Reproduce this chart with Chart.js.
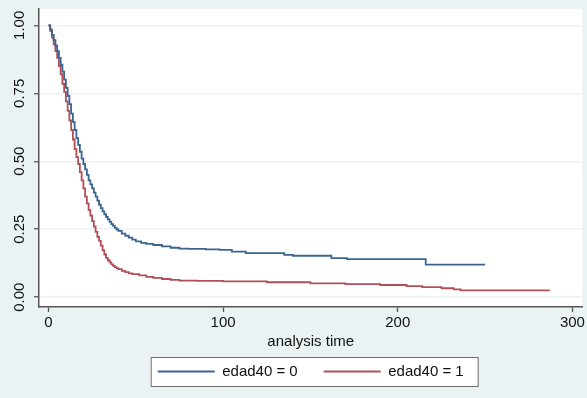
<!DOCTYPE html>
<html>
<head>
<meta charset="utf-8">
<script src="https://cdn.jsdelivr.net/npm/chart.js@4.4.1/dist/chart.umd.min.js"></script>
<style>
  html, body { margin: 0; padding: 0; background: #eaf2f3; }
  #wrap { width: 587px; height: 398px; }
</style>
</head>
<body>
<div id="wrap"><canvas id="kmChart" width="587" height="398"></canvas></div>
<script>
// Kaplan-Meier estimates
var edad0Time = [0, 1, 2, 3, 4, 5, 6, 7, 8, 9, 10, 11, 12, 13, 14, 15, 16, 17, 18, 19, 20,
    21, 22, 23, 24, 25, 26, 27, 28, 29, 30, 31, 32, 33, 34, 35, 36, 37, 38, 39, 40,
    42, 44, 46, 48, 50, 53, 56, 60, 65, 70, 75, 80, 90, 98, 105, 113, 135, 140, 162, 171, 216, 250];
var edad0Surv = [1.0, 0.985, 0.965, 0.945, 0.925, 0.905, 0.88, 0.855, 0.83, 0.80, 0.77,
    0.74, 0.71, 0.675, 0.645, 0.615, 0.585, 0.56, 0.535, 0.51, 0.49,
    0.47, 0.45, 0.43, 0.415, 0.40, 0.385, 0.37, 0.355, 0.34, 0.328,
    0.316, 0.305, 0.295, 0.286, 0.277, 0.269, 0.262, 0.255, 0.249, 0.244,
    0.234, 0.226, 0.219, 0.212, 0.205, 0.200, 0.196, 0.192, 0.187, 0.182, 0.179, 0.178,
    0.176, 0.174, 0.168, 0.162, 0.156, 0.1525, 0.144, 0.140, 0.120, 0.120];

var edad1Time = [0, 1, 2, 3, 4, 5, 6, 7, 8, 9, 10, 11, 12, 13, 14, 15, 16, 17, 18, 19, 20,
    21, 22, 23, 24, 25, 26, 27, 28, 29, 30, 31, 32, 33, 34, 35, 36, 37, 38, 39, 40,
    42, 44, 46, 48, 52, 56, 60, 65, 70, 75, 85, 100, 125, 150, 170, 190, 205, 214, 225, 232, 236, 287];
var edad1Surv = [1.0, 0.98, 0.955, 0.93, 0.905, 0.88, 0.85, 0.82, 0.785, 0.755, 0.72,
    0.685, 0.65, 0.615, 0.58, 0.545, 0.515, 0.49, 0.46, 0.43, 0.40,
    0.37, 0.345, 0.32, 0.30, 0.28, 0.26, 0.24, 0.222, 0.207, 0.19,
    0.172, 0.157, 0.145, 0.136, 0.128, 0.121, 0.115, 0.111, 0.107, 0.103,
    0.097, 0.092, 0.088, 0.085, 0.080, 0.075, 0.071, 0.067, 0.064, 0.061, 0.060,
    0.058, 0.055, 0.051, 0.048, 0.045, 0.041, 0.037, 0.033, 0.029, 0.025, 0.025];

var seriesLabels = ['edad40 = 0', 'edad40 = 1'];
var xTicks = [0, 100, 200, 300];
var yTicks = [0, 0.25, 0.5, 0.75, 1];

function toPoints(t, s) {
    return t.map(function (v, i) { return { x: v, y: s[i] }; });
}

// Stata-like backgrounds and the framed legend
var stataBackground = {
    id: 'stataBackground',
    beforeDraw: function (chart) {
        var ctx = chart.ctx, a = chart.chartArea;
        ctx.save();
        ctx.fillStyle = '#eaf2f3';
        ctx.fillRect(0, 0, chart.width, chart.height);
        ctx.fillStyle = '#ffffff';
        ctx.fillRect(a.left, a.top, a.right - a.left, a.bottom - a.top);
        var boxes = chart.legend.legendHitBoxes;
        if (boxes && boxes.length) {
            var first = boxes[0], last = boxes[boxes.length - 1];
            var x0 = first.left - 7, x1 = last.left + last.width + 14;
            var y0 = first.top - 7, y1 = first.top + first.height + 7;
            ctx.fillStyle = '#ffffff';
            ctx.fillRect(x0, y0, x1 - x0, y1 - y0);
            ctx.strokeStyle = '#6e6e6e';
            ctx.lineWidth = 1;
            ctx.strokeRect(x0 + 0.5, y0 + 0.5, x1 - x0, y1 - y0);
        }
        ctx.restore();
    }
};

var font = { family: '"Liberation Sans", Arial, sans-serif', size: 15 };

var ctxKm = document.getElementById('kmChart').getContext('2d');
var kmChart = new Chart(ctxKm, {
    type: 'line',
    data: {
        datasets: [{
            label: seriesLabels[0],
            data: toPoints(edad0Time, edad0Surv),
            borderColor: '#3b6591',
            backgroundColor: '#3b6591',
            borderWidth: 1.8,
            pointRadius: 0,
            stepped: true
        }, {
            label: seriesLabels[1],
            data: toPoints(edad1Time, edad1Surv),
            borderColor: '#b04f58',
            backgroundColor: '#b04f58',
            borderWidth: 1.8,
            pointRadius: 0,
            stepped: true
        }]
    },
    options: {
        responsive: false,
        animation: false,
        layout: { padding: { left: 0, right: 2, top: 0, bottom: 9 } },
        plugins: {
            tooltip: { enabled: false },
            legend: {
                position: 'bottom',
                fullSize: false,
                labels: {
                    usePointStyle: true,
                    pointStyle: 'line',
                    pointStyleWidth: 57,
                    boxHeight: 15,
                    padding: 26,
                    color: '#111',
                    font: font
                }
            }
        },
        scales: {
            x: {
                type: 'linear',
                min: -5.4,
                max: 305.7,
                afterBuildTicks: function (scale) {
                    scale.ticks = xTicks.map(function (v) { return { value: v }; });
                },
                afterFit: function (scale) { scale.height = 31; },
                ticks: { color: '#111', font: font, padding: 2, maxRotation: 0 },
                grid: { drawOnChartArea: false, tickLength: 5, tickColor: '#555', tickWidth: 1.3 },
                border: { display: true, color: '#555', width: 1.5 },
                title: {
                    display: true,
                    text: 'analysis time',
                    color: '#111',
                    font: font,
                    padding: { top: 0, bottom: -13 }
                }
            },
            y: {
                min: -0.036,
                max: 1.06,
                afterBuildTicks: function (scale) {
                    scale.ticks = yTicks.map(function (v) { return { value: v }; });
                },
                afterFit: function (scale) { scale.width = 39; },
                ticks: {
                    color: '#111',
                    font: font,
                    padding: 0,
                    minRotation: 90,
                    maxRotation: 90,
                    crossAlign: 'center',
                    callback: function (v) { return v.toFixed(2); }
                },
                grid: { color: '#eaf2f3', lineWidth: 1.5, tickLength: 5, tickColor: '#555', tickWidth: 1.3 },
                border: { display: true, color: '#555', width: 1.5 }
            }
        }
    },
    plugins: [stataBackground]
});
</script>
</body>
</html>
